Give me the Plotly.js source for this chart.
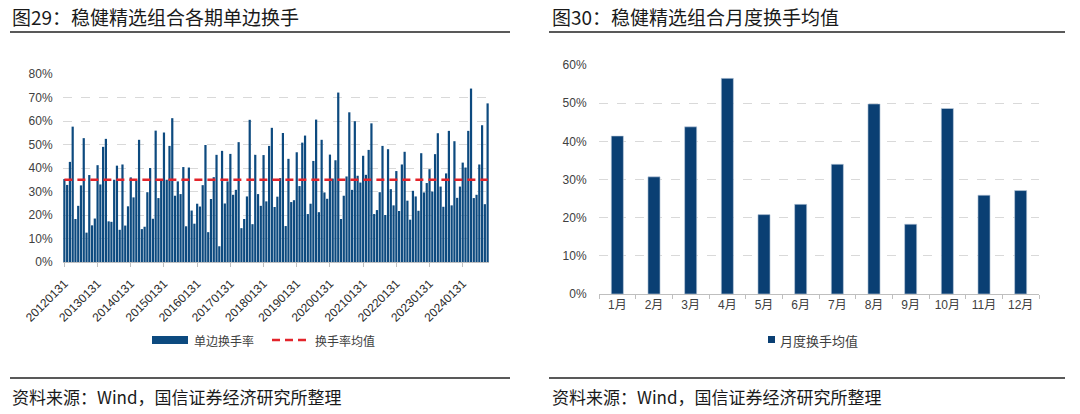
<!DOCTYPE html>
<html><head><meta charset="utf-8">
<script src="https://cdn.plot.ly/plotly-3.0.1.min.js"></script>
<style>html,body{margin:0;padding:0;background:#fff;} #chart{width:1080px;height:414px;}</style>
</head><body><div id="chart"></div>
<script>
// ---- data (percent) ----
const turnover = [
 35.3,32.8,42.6,57.6,18.3,23.9,32.6,52.7,12.5,37.0,15.6,18.5,
 41.2,33.0,49.0,52.4,17.3,17.1,35.0,41.0,13.7,41.5,15.5,23.7,
 36.0,27.5,34.7,52.0,14.0,15.0,29.7,40.0,18.4,55.9,27.2,35.0,
 55.1,35.0,49.4,61.2,28.2,34.3,28.9,40.4,15.2,40.2,21.9,16.3,
 24.8,23.6,32.7,49.8,12.7,26.8,36.1,45.6,6.7,47.3,24.9,34.3,
 46.0,28.6,30.7,51.0,14.4,18.3,27.9,60.5,16.1,45.6,28.9,23.9,
 45.5,25.8,49.4,57.1,23.4,27.8,35.7,54.9,15.3,43.9,25.5,26.3,
 46.7,32.3,50.8,53.8,20.4,24.8,43.0,60.6,21.2,52.0,29.6,26.9,
 45.7,35.5,43.3,72.1,18.3,28.2,36.4,63.7,30.7,59.9,36.7,33.8,
 45.2,37.1,47.7,59.0,20.4,22.1,29.7,49.4,20.0,48.0,31.0,24.1,
 38.7,21.7,41.5,46.9,26.1,18.0,30.3,27.9,21.8,46.3,29.6,33.6,
 39.5,30.0,45.9,54.8,32.1,23.5,37.7,55.8,24.1,51.4,27.3,32.1,
 42.3,40.2,55.8,73.8,27.2,28.6,41.5,58.2,24.6,67.5
];
const startYear = 2012;
const yearTickLabels = ['20120131','20130131','20140131','20150131','20160131','20170131','20180131',
  '20190131','20200131','20210131','20220131','20230131','20240131'];
const avgTurnover = 35;
const leftYTicks = [0,10,20,30,40,50,60,70,80];
const months = ['1月','2月','3月','4月','5月','6月','7月','8月','9月','10月','11月','12月'];
const monthlyAvg = [41.4,30.7,43.8,56.5,20.8,23.5,34.0,49.8,18.3,48.6,25.9,27.1];
const rightYTicks = [0,10,20,30,40,50,60];

// month-end period labels
const periods = turnover.map((_, i) => {
  const y = startYear + Math.floor(i / 12), m = i % 12;
  const d = new Date(Date.UTC(y, m + 1, 0)).getUTCDate();
  return '' + y + String(m + 1).padStart(2, '0') + String(d).padStart(2, '0');
});

const W = 1080, H = 414;
const px = v => v / W, py = v => 1 - v / H;
const BLUE = '#0d4a7f', BLUE2 = '#0a3f73', RED = '#e3242b';
const numFont = 'Liberation Sans, Arial, Noto Sans CJK SC, sans-serif';
const cjkFont = 'Noto Sans CJK SC, sans-serif';

const traces = [
  {type:'bar', x: periods, y: turnover, xaxis:'x', yaxis:'y', name:'单边换手率',
   marker:{color: BLUE, line:{width:0}}, showlegend:false},
  {type:'scatter', mode:'lines', x: periods, y: periods.map(() => avgTurnover), xaxis:'x', yaxis:'y',
   name:'换手率均值', line:{color: RED, width:2.5, dash:'8px,5px'}, showlegend:false},
  {type:'bar', x: months, y: monthlyAvg, xaxis:'x2', yaxis:'y2', name:'月度换手均值', width:0.33,
   marker:{color: BLUE2, line:{color:'#c5d2e0', width:0.6}}, showlegend:false}
];

const axisTick = {family: numFont, size: 12, color: '#404040'};
const layout = {
  width: W, height: H, margin:{l:0,r:0,t:0,b:0},
  paper_bgcolor:'#fff', plot_bgcolor:'rgba(0,0,0,0)',
  bargap: 0.2, showlegend:false,
  xaxis:{domain:[px(63), px(489)], type:'category', range:[-0.5, turnover.length - 0.5],
    tickvals: yearTickLabels, ticktext: yearTickLabels, tickangle:-45, ticklabelstandoff:5,
    ticks:'outside', ticklen:4, tickcolor:'#bfbfbf', showline:true, linecolor:'#bfbfbf', linewidth:1,
    showgrid:false, zeroline:false, tickfont: {family: numFont, size: 12, color: '#2b2b2b'}, fixedrange:true},
  yaxis:{domain:[py(262), py(74)], range:[0, 80], tickvals:leftYTicks, ticktext:leftYTicks.map(v => v + '%'),
    showgrid:true, gridcolor:'#d9d9d9', griddash:'dash', gridwidth:1, zeroline:false, showline:false,
    ticks:'outside', ticklen:7, tickcolor:'rgba(0,0,0,0)', tickfont: axisTick, fixedrange:true},
  xaxis2:{domain:[px(599), px(1039)], type:'category', tickson:'boundaries',
    ticks:'outside', ticklen:4, tickcolor:'#bfbfbf', showline:true, linecolor:'#bfbfbf', linewidth:1,
    showgrid:false, zeroline:false, anchor:'y2', tickfont:{family: numFont, size:12, color:'#404040'}, fixedrange:true},
  yaxis2:{domain:[py(294), py(65)], range:[0, 60], tickvals:rightYTicks, ticktext:rightYTicks.map(v => v + '%'), anchor:'x2',
    showgrid:true, gridcolor:'#d9d9d9', griddash:'dash', gridwidth:1, zeroline:false, showline:false,
    ticks:'outside', ticklen:9, tickcolor:'rgba(0,0,0,0)', tickfont: axisTick, fixedrange:true},
  shapes:[
    // title rules
    {type:'line', xref:'paper', yref:'paper', x0:px(10), x1:px(510), y0:py(32), y1:py(32), line:{color:'#222', width:1.5}},
    {type:'line', xref:'paper', yref:'paper', x0:px(549), x1:px(1065), y0:py(32), y1:py(32), line:{color:'#222', width:1.5}},
    // bottom rules
    {type:'line', xref:'paper', yref:'paper', x0:px(10), x1:px(510), y0:py(378), y1:py(378), line:{color:'#222', width:1.5}},
    {type:'line', xref:'paper', yref:'paper', x0:px(549), x1:px(1065), y0:py(378), y1:py(378), line:{color:'#222', width:1.5}},
    // legend swatches
    {type:'rect', xref:'paper', yref:'paper', x0:px(152), x1:px(188), y0:py(344), y1:py(336), fillcolor:BLUE, line:{width:0}},
    {type:'line', xref:'paper', yref:'paper', x0:px(272), x1:px(310), y0:py(340), y1:py(340), line:{color:RED, width:2.5, dash:'8px,5px'}},
    {type:'rect', xref:'paper', yref:'paper', x0:px(768), x1:px(775), y0:py(343), y1:py(336), fillcolor:BLUE2, line:{width:0}}
  ],
  annotations:[
    {xref:'paper', yref:'paper', x:px(10), y:py(17), xanchor:'left', yanchor:'middle', showarrow:false,
     text:'图29：稳健精选组合各期单边换手', font:{family:cjkFont, size:19, color:'#1a1a1a'}},
    {xref:'paper', yref:'paper', x:px(550), y:py(17), xanchor:'left', yanchor:'middle', showarrow:false,
     text:'图30：稳健精选组合月度换手均值', font:{family:cjkFont, size:19, color:'#1a1a1a'}},
    {xref:'paper', yref:'paper', x:px(10), y:py(396), xanchor:'left', yanchor:'middle', showarrow:false,
     text:'资料来源：Wind，国信证券经济研究所整理', font:{family:cjkFont, size:17, color:'#1a1a1a'}},
    {xref:'paper', yref:'paper', x:px(550), y:py(396), xanchor:'left', yanchor:'middle', showarrow:false,
     text:'资料来源：Wind，国信证券经济研究所整理', font:{family:cjkFont, size:17, color:'#1a1a1a'}},
    {xref:'paper', yref:'paper', x:px(192), y:py(340), xanchor:'left', yanchor:'middle', showarrow:false,
     text:'单边换手率', font:{family:cjkFont, size:12, color:'#404040'}},
    {xref:'paper', yref:'paper', x:px(313), y:py(340), xanchor:'left', yanchor:'middle', showarrow:false,
     text:'换手率均值', font:{family:cjkFont, size:12, color:'#404040'}},
    {xref:'paper', yref:'paper', x:px(778), y:py(340), xanchor:'left', yanchor:'middle', showarrow:false,
     text:'月度换手均值', font:{family:cjkFont, size:13, color:'#404040'}}
  ]
};

Plotly.newPlot('chart', traces, layout, {displayModeBar:false, staticPlot:true});
</script></body></html>
